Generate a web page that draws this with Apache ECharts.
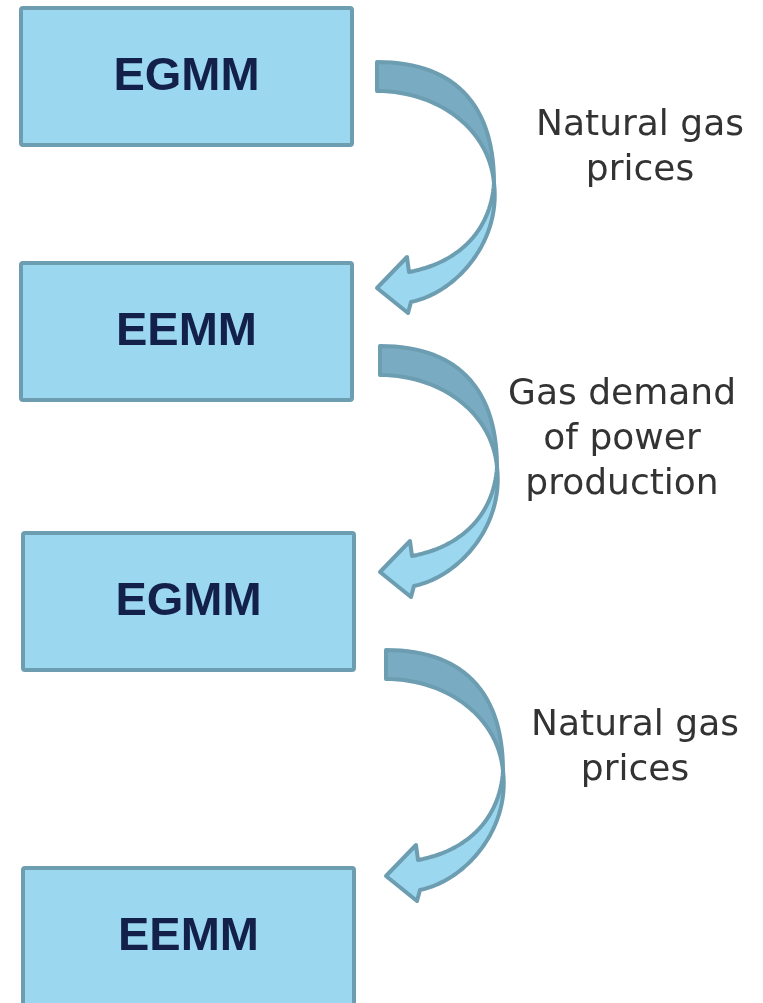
<!DOCTYPE html>
<html><head><meta charset="utf-8">
<script src="https://cdn.jsdelivr.net/npm/echarts@6/dist/echarts.min.js"></script>
<style>html,body{margin:0;padding:0;background:#fff}#c{width:763px;height:1003px}</style>
</head><body><div id="c"></div>
<script>
// ---- content ----
const nodeNames = ['EGMM', 'EEMM', 'EGMM', 'EEMM'];
const linkLabels = ['Natural gas\nprices', 'Gas demand\nof power\nproduction', 'Natural gas\nprices'];

// ---- layout (axis units) ----
const nodeLayout = [[21, 8], [21, 263], [23, 533], [23, 868]]; // left, top
const nodeSize = [331, 137];
const arrowLayout = [[377, 183], [380, 467], [386, 771]];      // arrow origin
const labelLayout = [[640, 148], [622, 440], [635, 748]];

const BOX_FILL = '#9cd7f0', STROKE = '#6c9db1', DARK = '#79acc2';

function bez(p0, p1, p2, p3, n) {
  const pts = [];
  for (let k = 0; k <= n; k++) {
    const t = k / n, u = 1 - t;
    pts.push([
      u*u*u*p0[0] + 3*u*u*t*p1[0] + 3*u*t*t*p2[0] + t*t*t*p3[0],
      u*u*u*p0[1] + 3*u*u*t*p1[1] + 3*u*t*t*p2[1] + t*t*t*p3[1]
    ]);
  }
  return pts;
}

function renderNode(params, api) {
  const i = api.value(0);
  const [l, t] = nodeLayout[i];
  const p0 = api.coord([l, t]);
  const p1 = api.coord([l + nodeSize[0], t + nodeSize[1]]);
  return { type: 'group', children: [
    { type: 'rect', shape: { x: p0[0], y: p0[1], width: p1[0] - p0[0], height: p1[1] - p0[1], r: 2 },
      style: { fill: BOX_FILL, stroke: STROKE, lineWidth: 4 } },
    { type: 'text', style: { text: nodeNames[i], x: (p0[0] + p1[0]) / 2, y: (p0[1] + p1[1]) / 2 + 1,
      align: 'center', verticalAlign: 'middle', font: 'bold 47px "Liberation Sans", Arial, sans-serif', fill: '#12204a' } }
  ]};
}

function renderLink(params, api) {
  const i = api.value(0);
  const [ox, oy] = arrowLayout[i];
  const P = (x, y) => [ox + x, oy + y];
  // upper (back) band, tapering to a point at the crossing
  const upper = bez(P(0, -121), P(76, -121), P(117, -80), P(117, 0), 30)
    .concat(bez(P(117, 0), P(112, -55), P(60, -92), P(0, -92), 30));
  // lower (front) band with head
  const lower = bez(P(117, 0), P(124, 57), P(81, 109), P(34, 119), 30)
    .concat([P(31, 130), P(0, 105), P(30, 74)])
    .concat(bez(P(32, 89), P(85, 79), P(114, 45), P(117, 0), 30));
  const m = p => api.coord(p);
  const [lx, ly] = labelLayout[i];
  const lp = m([lx, ly]);
  return { type: 'group', children: [
    { type: 'polygon', shape: { points: lower.map(m) },
      style: { fill: BOX_FILL, stroke: STROKE, lineWidth: 4, lineJoin: 'round' } },
    { type: 'polygon', shape: { points: upper.map(m) },
      style: { fill: DARK, stroke: STROKE, lineWidth: 4, lineJoin: 'round' } },
    { type: 'text', style: { text: linkLabels[i], x: lp[0], y: lp[1], align: 'center', verticalAlign: 'middle',
      font: '36px "DejaVu Sans", Verdana, sans-serif', lineHeight: 45, fill: '#333333' } }
  ]};
}

const chart = echarts.init(document.getElementById('c'), null, { renderer: 'canvas' });
chart.setOption({
  animation: false,
  backgroundColor: '#ffffff',
  grid: { left: 0, right: 0, top: 0, bottom: 0 },
  xAxis: { type: 'value', min: 0, max: 763, show: false },
  yAxis: { type: 'value', min: 0, max: 1003, inverse: true, show: false },
  series: [
    { type: 'custom', silent: true, clip: false, renderItem: renderLink,
      data: linkLabels.map((_, i) => [i]) },
    { type: 'custom', silent: true, clip: false, renderItem: renderNode,
      data: nodeNames.map((_, i) => [i]) }
  ]
});
</script>
</body></html>
